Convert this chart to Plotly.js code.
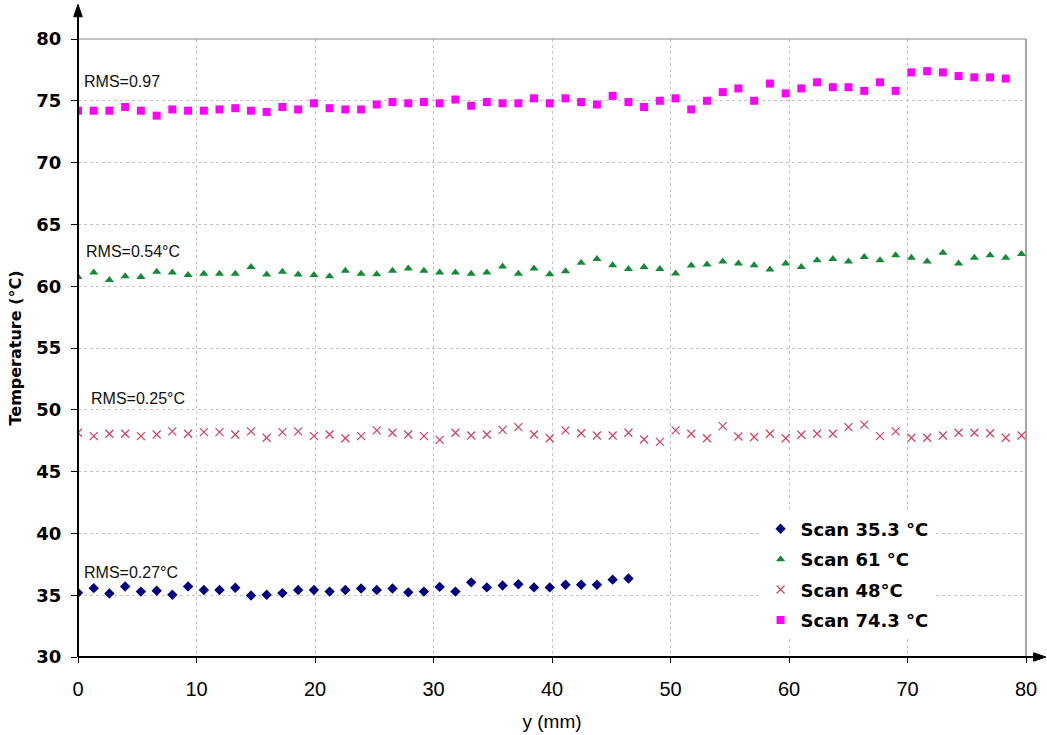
<!DOCTYPE html>
<html>
<head>
<meta charset="utf-8">
<script src="https://cdn.plot.ly/plotly-3.0.1.min.js"></script>
<style>html,body{margin:0;padding:0;background:#fff;}#chart{width:1047px;height:735px;}</style>
</head>
<body>
<div id="chart"></div>
<script>
// Positions along y (mm)
var positions = [0, 1.33, 2.65, 3.98, 5.31, 6.64, 7.96, 9.29, 10.62, 11.94, 13.27, 14.6, 15.92, 17.25, 18.58, 19.91, 21.23, 22.56, 23.89, 25.21, 26.54, 27.87, 29.19, 30.52, 31.85, 33.18, 34.5, 35.83, 37.16, 38.48, 39.81, 41.14, 42.46, 43.79, 45.12, 46.45, 47.77, 49.1, 50.43, 51.75, 53.08, 54.41, 55.73, 57.06, 58.39, 59.72, 61.04, 62.37, 63.7, 65.02, 66.35, 67.68, 69.0, 70.33, 71.66, 72.99, 74.31, 75.64, 76.97, 78.29, 79.62];

var scan35 = [35.2, 35.57, 35.14, 35.7, 35.29, 35.36, 35.04, 35.7, 35.42, 35.42, 35.6, 34.98, 35.04, 35.17, 35.42, 35.42, 35.29, 35.42, 35.54, 35.42, 35.54, 35.23, 35.29, 35.67, 35.29, 36.04, 35.63, 35.79, 35.89, 35.63, 35.63, 35.85, 35.85, 35.85, 36.26, 36.35];

var scan61 = [60.75, 61.1, 60.5, 60.8, 60.75, 61.16, 61.1, 60.9, 61.0, 61.0, 61.0, 61.56, 60.94, 61.16, 60.94, 60.9, 60.8, 61.24, 61.0, 60.97, 61.24, 61.43, 61.24, 61.1, 61.1, 61.0, 61.1, 61.6, 61.0, 61.43, 60.97,
  61.2, 61.9, 62.2, 61.7, 61.4, 61.56, 61.4, 61.02, 61.67, 61.75, 62.0, 61.83, 61.7, 61.35, 61.83, 61.56, 62.1, 62.2, 62.0, 62.37, 62.1, 62.5, 62.3, 62.0, 62.7, 61.83, 62.3, 62.5, 62.3, 62.6];

var scan48 = [48.14, 47.87, 48.06, 48.06, 47.87, 48.0, 48.25, 48.06, 48.2, 48.2, 48.0, 48.25, 47.74, 48.2, 48.25, 47.87, 48.0, 47.7, 47.87, 48.33, 48.14, 48.0, 47.87, 47.57, 48.14, 47.92, 48.0, 48.38, 48.6, 48.0, 47.7,
  48.33, 48.1, 47.92, 47.92, 48.14, 47.6, 47.4, 48.33, 48.06, 47.7, 48.68, 47.84, 47.8, 48.06, 47.7, 47.98, 48.06, 48.06, 48.6, 48.8, 47.87, 48.25, 47.74, 47.74, 47.92, 48.14, 48.14, 48.1, 47.74, 47.92];

var scan74 = [74.2, 74.2, 74.2, 74.5, 74.2, 73.8, 74.3, 74.2, 74.2, 74.3, 74.4, 74.2, 74.1, 74.5, 74.3, 74.8, 74.4, 74.3, 74.3, 74.7, 74.9, 74.8, 74.9, 74.8, 75.1, 74.6, 74.9, 74.8, 74.8, 75.2, 74.8,
  75.2, 74.9, 74.7, 75.4, 74.9, 74.5, 75.0, 75.2, 74.3, 75.0, 75.7, 76.0, 75.0, 76.4, 75.6, 76.0, 76.5, 76.1, 76.1, 75.8, 76.5, 75.8, 77.3, 77.4, 77.3, 77.0, 76.9, 76.9, 76.8];

var seriesNames = ["Scan 35.3 °C", "Scan 61 °C", "Scan 48°C", "Scan 74.3 °C"];
var rmsLabels = ["RMS=0.97", "RMS=0.54°C", "RMS=0.25°C", "RMS=0.27°C"];
var rmsX = [0.3, 0.5, 0.9, 0.3];
var rmsY = [76.6, 62.8, 50.9, 36.8];

var xTicks = [0, 10, 20, 30, 40, 50, 60, 70, 80];
var yTicks = [30, 35, 40, 45, 50, 55, 60, 65, 70, 75, 80];

var traces = [
  {x: positions.slice(0, scan35.length), y: scan35, name: seriesNames[0], type: 'scatter', mode: 'markers',
   marker: {symbol: 'diamond', size: 8, color: '#000080'}, legendgroup: 'a'},
  {x: positions.slice(0, scan61.length), y: scan61, name: seriesNames[1], type: 'scatter', mode: 'markers',
   marker: {symbol: 'triangle-up', size: 8, color: '#138a36'}, legendgroup: 'b'},
  {x: positions.slice(0, scan48.length), y: scan48, name: seriesNames[2], type: 'scatter', mode: 'markers',
   marker: {symbol: 'x-thin-open', size: 8, color: '#d5405a', line: {width: 1.2, color: '#d5405a'}}, legendgroup: 'c'},
  {x: positions.slice(0, scan74.length), y: scan74, name: seriesNames[3], type: 'scatter', mode: 'markers',
   marker: {symbol: 'square', size: 8, color: '#ff00ff'}, legendgroup: 'd'}
];

var annotations = rmsLabels.map(function (t, i) {
  return {x: rmsX[i], y: rmsY[i], xref: 'x', yref: 'y', text: t, showarrow: false, xanchor: 'left', yanchor: 'middle',
          font: {family: 'Liberation Sans, Arial, sans-serif', size: 16, color: '#111'}};
});

var shapes = [
  {type: 'line', xref: 'paper', yref: 'paper', x0: 0, x1: 1, y0: 1, y1: 1, line: {color: '#888', width: 1.2}},
  {type: 'line', xref: 'paper', yref: 'paper', x0: 1, x1: 1, y0: 0, y1: 1, line: {color: '#888', width: 1.5}},
  {type: 'line', xref: 'paper', yref: 'paper', x0: 0, x1: 0, y0: 0, y1: 1.04, line: {color: '#000', width: 2}},
  {type: 'path', xref: 'paper', yref: 'paper', path: 'M -0.0045 1.036 L 0.0045 1.036 L 0 1.056 Z', fillcolor: '#000', line: {color: '#000', width: 1}},
  {type: 'line', xref: 'paper', yref: 'paper', x0: 0, x1: 1.012, y0: 0, y1: 0, line: {color: '#000', width: 2}},
  {type: 'path', xref: 'paper', yref: 'paper', path: 'M 1.008 0.0068 L 1.008 -0.0068 L 1.021 0 Z', fillcolor: '#000', line: {color: '#000', width: 1}}
];

var layout = {
  width: 1047, height: 735,
  margin: {l: 78, r: 21, t: 39, b: 78},
  paper_bgcolor: '#fff', plot_bgcolor: '#fff',
  showlegend: true,
  legend: {x: 0.72, y: 0.237, xanchor: 'left', yanchor: 'top', bgcolor: '#fff', borderwidth: 0,
           tracegroupgap: 4, itemwidth: 30,
           font: {family: 'DejaVu Sans, sans-serif', size: 18, color: '#000', weight: 'bold'}},
  xaxis: {range: [0, 80], tickvals: xTicks, ticktext: xTicks.map(String), showline: false, zeroline: false,
          showgrid: true, gridcolor: '#c4c4c4', griddash: '3px,3px', gridwidth: 1,
          ticks: 'outside', ticklen: 5, tickcolor: '#000', ticklabelstandoff: 9,
          tickfont: {family: 'Liberation Sans, Arial, sans-serif', size: 20, color: '#000'},
          title: {text: 'y (mm)', standoff: 15, font: {family: 'Liberation Sans, Arial, sans-serif', size: 19, color: '#000'}}},
  yaxis: {range: [30, 80], tickvals: yTicks, ticktext: yTicks.map(String), showline: false, zeroline: false,
          showgrid: true, gridcolor: '#c4c4c4', griddash: '3px,3px', gridwidth: 1,
          ticks: 'outside', ticklen: 6, tickcolor: '#000', ticklabelstandoff: 6,
          tickfont: {family: 'DejaVu Sans, sans-serif', size: 18, color: '#000', weight: 'bold'},
          title: {text: 'Temperature (°C)', standoff: 10, font: {family: 'DejaVu Sans, sans-serif', size: 16, color: '#000', weight: 'bold'}}},
  annotations: annotations,
  shapes: shapes
};

Plotly.newPlot('chart', traces, layout, {displayModeBar: false, staticPlot: true});
</script>
</body>
</html>
